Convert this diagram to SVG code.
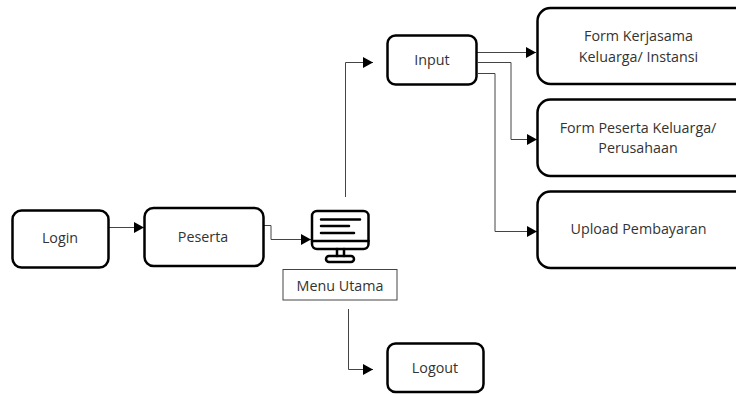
<svg xmlns="http://www.w3.org/2000/svg" width="736" height="394" viewBox="0 0 736 394">
<defs>
<marker id="a" markerUnits="userSpaceOnUse" markerWidth="11" markerHeight="12" refX="10" refY="5.500" orient="auto"><path d="M0 0L10 5.500L0 11Z" fill="#000"/></marker>
</defs>
<style>
.b{fill:#fff;stroke:#000;stroke-width:2.500}
.c{fill:none;stroke:#444;stroke-width:1;marker-end:url(#a)}
text{font-family:"Open Sans","Noto Sans",sans-serif;font-size:14.300px;fill:#333;text-anchor:middle}
.m{fill:none;stroke:#000;stroke-width:2.500;stroke-linecap:round}
</style>
<rect width="736" height="394" fill="#fff"/>
<g id="connectors">
<path class="c" d="M108 227.500H144"/>
<path class="c" d="M264 225.500H271V239.500H311"/>
<path class="c" d="M345.500 197V62.500H373"/>
<path class="c" d="M348.500 309V369.500H373"/>
<path class="c" d="M477 52.500H536"/>
<path class="c" d="M478 62.500H511V139.500H537"/>
<path class="c" d="M478 73.500H495V231.500H537"/>
</g>
<g id="login"><rect class="b" x="12.500" y="210.500" width="96" height="57" rx="9"/><text x="60" y="243">Login</text></g>
<g id="peserta"><rect class="b" x="144.500" y="208" width="119" height="58" rx="9"/><text x="203" y="242">Peserta</text></g>
<g id="menu-utama">
<rect x="312" y="211" width="56.500" height="38" rx="5" class="m"/>
<path class="m" d="M312 241H368.500M321 219.500H360M321 226H349M321 233H354"/>
<path class="m" d="M337 249V256M344 249V256"/>
<rect x="326" y="256" width="28" height="6" rx="3" class="m"/>
<rect x="283" y="269.500" width="114" height="30.500" fill="#fff" stroke="#444"/>
<text x="340" y="291">Menu Utama</text>
</g>
<g id="input"><rect class="b" x="387.500" y="35.500" width="89" height="49" rx="8"/><text x="432" y="65">Input</text></g>
<g id="logout"><rect class="b" x="387.500" y="343.500" width="96" height="48.500" rx="8"/><text x="435" y="373">Logout</text></g>
<g id="form-kerjasama"><rect class="b" x="537.500" y="8" width="210" height="76" rx="13"/><text x="638.500" y="41">Form Kerjasama</text><text x="638.500" y="61.500">Keluarga/ Instansi</text></g>
<g id="form-peserta"><rect class="b" x="537.500" y="99.500" width="210" height="76.500" rx="13"/><text x="638" y="133">Form Peserta Keluarga/</text><text x="638" y="153">Perusahaan</text></g>
<g id="upload"><rect class="b" x="537.500" y="191.500" width="210" height="76.500" rx="13"/><text x="638.500" y="234">Upload Pembayaran</text></g>
</svg>
